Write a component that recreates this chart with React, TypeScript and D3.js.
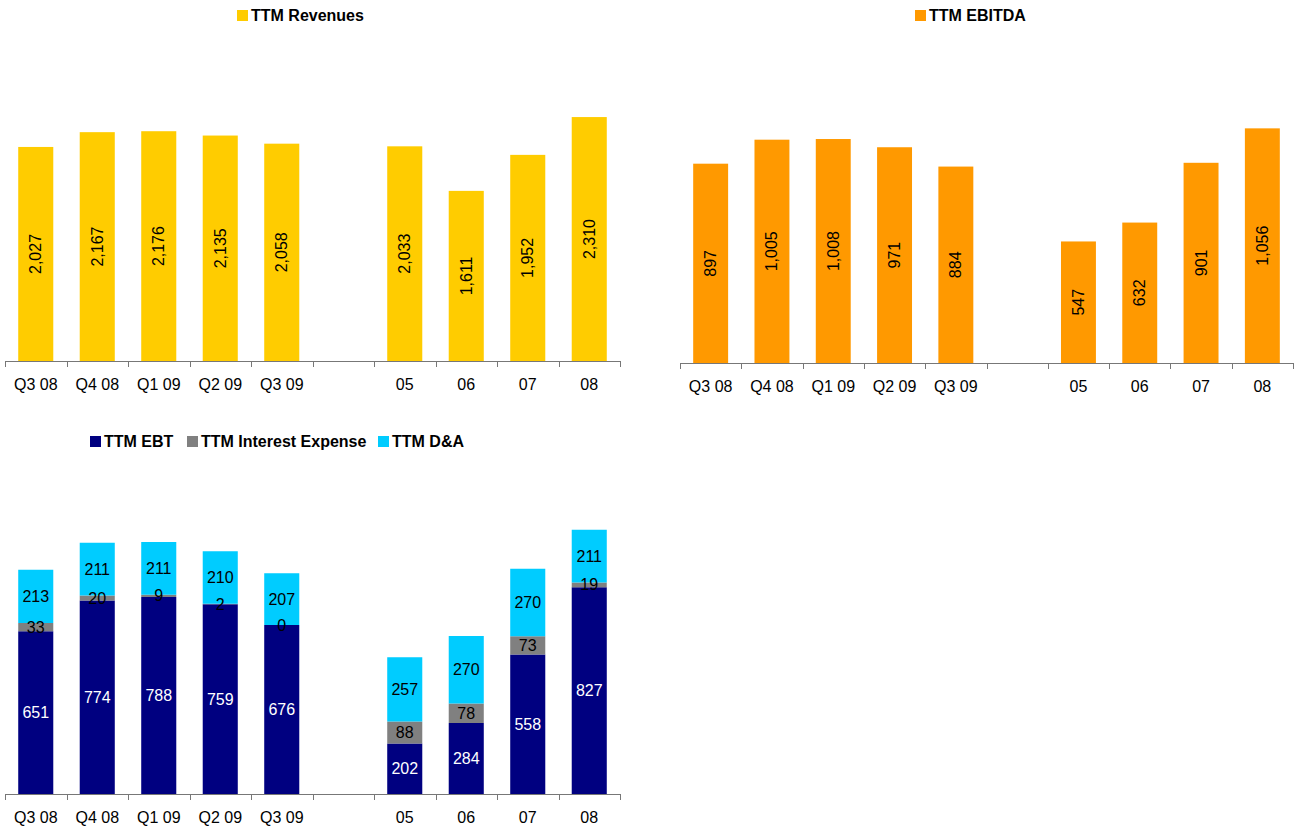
import React from 'react';
import * as d3 from 'd3';

const categories = ['Q3 08', 'Q4 08', 'Q1 09', 'Q2 09', 'Q3 09', '', '05', '06', '07', '08'];
const revenues: (number | null)[] = [2027, 2167, 2176, 2135, 2058, null, 2033, 1611, 1952, 2310];
const ebitda: (number | null)[] = [897, 1005, 1008, 971, 884, null, 547, 632, 901, 1056];
const ebt: (number | null)[] = [651, 774, 788, 759, 676, null, 202, 284, 558, 827];
const interest: (number | null)[] = [33, 20, 9, 2, 0, null, 88, 78, 73, 19];
const da: (number | null)[] = [213, 211, 211, 210, 207, null, 257, 270, 270, 211];

const FONT = "Arial, 'Liberation Sans', sans-serif";
const AXIS_COLOR = '#777';

const fmt = d3.format(',');

interface AxisProps {
    x: d3.ScaleBand<string>;
    y0: number;
}

const CategoryAxis: React.FC<AxisProps> = ({ x, y0 }) => {
    const [x0, x1] = x.range();
    const edges = categories.map(c => x(c)!).concat([x1]);
    return (
        <g>
            <line x1={x0} x2={x1} y1={y0 + 0.5} y2={y0 + 0.5} stroke={AXIS_COLOR} strokeWidth={1} />
            {edges.map((e, i) => (
                <line key={i} x1={Math.round(e) + 0.5} x2={Math.round(e) + 0.5} y1={y0} y2={y0 + 6} stroke={AXIS_COLOR} strokeWidth={1} />
            ))}
            {categories.map(c => (
                <text key={c || 'blank'} x={x(c)! + x.bandwidth() / 2} y={y0 + 29} textAnchor="middle"
                    fontSize={16} fontFamily={FONT} fill="#000">{c}</text>
            ))}
        </g>
    );
};

interface SimpleBarProps {
    values: (number | null)[];
    left: number;
    right: number;
    axisY: number;
    max: number;
    pxPerUnit: number;
    color: string;
    legend: string;
    legendX: number;
}

const SimpleBars: React.FC<SimpleBarProps> = ({ values, left, right, axisY, max, pxPerUnit, color, legend, legendX }) => {
    const x = d3.scaleBand<string>().domain(categories).range([left, right]).paddingInner(0.43).paddingOuter(0.215);
    const band = d3.scaleBand<string>().domain(categories).range([left, right]);
    const y = d3.scaleLinear().domain([0, max]).range([axisY, axisY - max * pxPerUnit]);
    return (
        <g>
            <rect x={legendX} y={10} width={11} height={11} fill={color} />
            <text x={legendX + 14} y={21} fontSize={16} fontWeight="bold" fontFamily={FONT} fill="#000">{legend}</text>
            {categories.map((c, i) => {
                const v = values[i];
                if (v == null) return null;
                const bx = x(c)!;
                const top = y(v);
                const cx = bx + x.bandwidth() / 2;
                const cy = (top + axisY) / 2;
                return (
                    <g key={c}>
                        <rect x={bx} y={top} width={x.bandwidth()} height={axisY - top} fill={color} />
                        <text transform={`translate(${cx},${cy}) rotate(-90)`} textAnchor="middle" dominantBaseline="central"
                            fontSize={16} fontFamily={FONT} fill="#000">{fmt(v)}</text>
                    </g>
                );
            })}
            <CategoryAxis x={band} y0={axisY} />
        </g>
    );
};

const StackedBars: React.FC = () => {
    const left = 5, right = 620, axisY = 794;
    const x = d3.scaleBand<string>().domain(categories).range([left, right]).paddingInner(0.43).paddingOuter(0.215);
    const band = d3.scaleBand<string>().domain(categories).range([left, right]);
    const y = d3.scaleLinear().domain([0, 1200]).range([axisY, axisY - 300]);

    const series = [
        { name: 'TTM EBT', values: ebt, color: '#000080', text: '#fff' },
        { name: 'TTM Interest Expense', values: interest, color: '#808080', text: '#000' },
        { name: 'TTM D&A', values: da, color: '#00CCFF', text: '#000' },
    ];
    const legendXs = [90, 187, 378];

    // one segment list per category, so rects can go under all labels
    const segments = categories.flatMap((c, i) => {
        if (ebt[i] == null) return [];
        let acc = 0;
        return series.map(s => {
            const v = s.values[i] as number;
            const seg = { key: `${c}-${s.name}`, c, v, y0: y(acc), y1: y(acc + v), color: s.color, text: s.text };
            acc += v;
            return seg;
        });
    });
    const w = x.bandwidth();

    return (
        <g>
            {series.map((s, k) => (
                <g key={s.name}>
                    <rect x={legendXs[k]} y={436} width={11} height={11} fill={s.color} />
                    <text x={legendXs[k] + 14} y={447} fontSize={16} fontWeight="bold" fontFamily={FONT} fill="#000">{s.name}</text>
                </g>
            ))}
            {segments.filter(d => d.v > 0).map(d => (
                <rect key={d.key} x={x(d.c)!} y={d.y1} width={w} height={d.y0 - d.y1} fill={d.color} />
            ))}
            {segments.map(d => (
                <text key={d.key} x={x(d.c)! + w / 2} y={(d.y0 + d.y1) / 2} textAnchor="middle" dominantBaseline="central"
                    fontSize={16} fontFamily={FONT} fill={d.text}>{fmt(d.v)}</text>
            ))}
            <CategoryAxis x={band} y0={axisY} />
        </g>
    );
};

export default function App() {
    return (
        <svg width={1303} height={827} style={{ position: 'absolute', left: 0, top: 0, background: '#fff' }}>
            <SimpleBars values={revenues} left={5} right={620} axisY={361} max={2800} pxPerUnit={0.1056}
                color="#FFCC00" legend="TTM Revenues" legendX={237} />
            <SimpleBars values={ebitda} left={680} right={1293} axisY={363} max={1200} pxPerUnit={0.2222}
                color="#FF9900" legend="TTM EBITDA" legendX={915} />
            <StackedBars />
        </svg>
    );
}
